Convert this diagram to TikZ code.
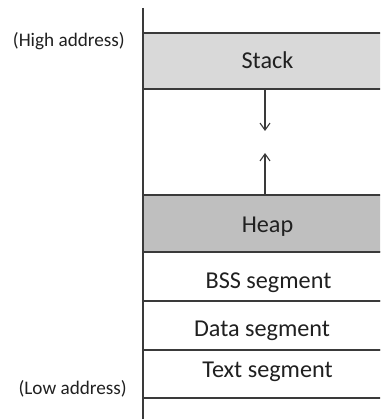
\documentclass[tikz,border=0pt]{standalone}
\usepackage{fontspec}
\setmainfont{Carlito}
\usetikzlibrary{arrows.meta}
\definecolor{stackgray}{HTML}{D9D9D9}
\definecolor{heapgray}{HTML}{BFBFBF}
\definecolor{linegray}{HTML}{3A3A3A}
\definecolor{textgray}{HTML}{202020}
\begin{document}
\begin{tikzpicture}[x=1pt,y=-1pt,
  seg/.style={draw=linegray, line width=1.5pt, minimum width=260pt, anchor=north west, inner sep=0pt, outer sep=0pt},
  lbl/.style={text=textgray, font=\fontsize{24.2}{28}\selectfont, anchor=base, inner sep=0pt},
  addr/.style={text=textgray, font=\fontsize{19.2}{23}\selectfont, anchor=base east, inner sep=0pt},
  growarrow/.style={draw=linegray, line width=1.1pt, -{Straight Barb[length=7pt,width=10pt]}},
  axisline/.style={draw=linegray, line width=1.8pt}]
\useasboundingbox (0,0) rectangle (380,419);
\clip (0,0) rectangle (380,419);
\node[seg, fill=stackgray, minimum height=56pt] (stack) at (143,33) {};
\node[seg, fill=heapgray, minimum height=57pt] (heap) at (143,195) {};
\node[seg, fill=white, minimum height=49pt] (bss) at (143,252) {};
\node[seg, fill=white, minimum height=49pt] (data) at (143,301) {};
\node[seg, fill=white, minimum height=48pt] (text) at (143,350) {};
\coordinate (top) at (143,8);
\coordinate (bottom) at (143,420);
\draw[axisline] (top) -- (bottom);
\node[lbl] (stacklbl) at (267.5,69) {Stack};
\node[lbl] (heaplbl) at (267.5,232) {Heap};
\node[lbl] (bsslbl) at (268.5,288) {BSS segment};
\node[lbl] (datalbl) at (262,336) {Data segment};
\node[lbl] (textlbl) at (267.5,377.5) {Text segment};
\node[addr] (high) at (125,46.5) {(High address)};
\node[addr] (low) at (127,394) {(Low address)};
\coordinate (ax) at (265,0);
\coordinate (downtip) at (265,131);
\coordinate (uptip) at (265,153);
\draw[growarrow] (stack.south -| ax) -- (downtip);
\draw[growarrow] (heap.north -| ax) -- (uptip);
\end{tikzpicture}
\end{document}
